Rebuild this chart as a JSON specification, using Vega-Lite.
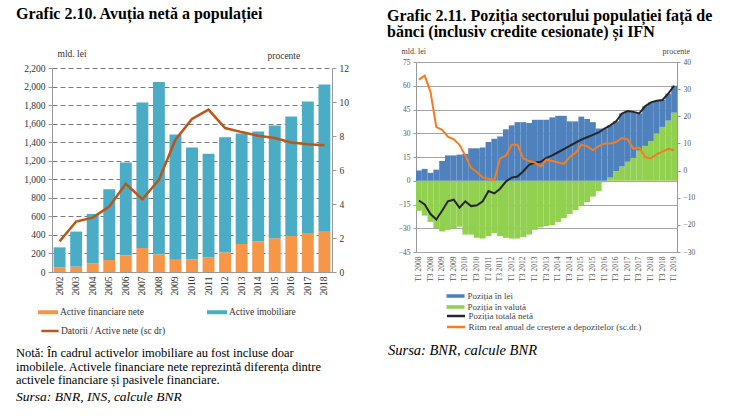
{
  "$schema": "https://vega.github.io/schema/vega-lite/v6.json",
  "background": "white",
  "padding": {"left": 16, "top": 6, "right": 4, "bottom": 4},
  "autosize": {"type": "pad"},
  "config": {
    "font": "Liberation Serif",
    "view": {"stroke": null},
    "axis": {"labelFont": "Liberation Serif", "titleFont": "Liberation Serif", "titleFontWeight": "normal", "labelOverlap": false},
    "legend": {"labelFont": "Liberation Serif"},
    "title": {"font": "Liberation Serif", "subtitleFont": "Liberation Serif"}
  },
  "datasets": {
    "left_bars": [
      {"an": "2002", "serie": "Active financiare nete", "v": 50},
      {"an": "2003", "serie": "Active financiare nete", "v": 58},
      {"an": "2004", "serie": "Active financiare nete", "v": 94},
      {"an": "2005", "serie": "Active financiare nete", "v": 130},
      {"an": "2006", "serie": "Active financiare nete", "v": 180},
      {"an": "2007", "serie": "Active financiare nete", "v": 259},
      {"an": "2008", "serie": "Active financiare nete", "v": 191},
      {"an": "2009", "serie": "Active financiare nete", "v": 133},
      {"an": "2010", "serie": "Active financiare nete", "v": 137},
      {"an": "2011", "serie": "Active financiare nete", "v": 158},
      {"an": "2012", "serie": "Active financiare nete", "v": 212},
      {"an": "2013", "serie": "Active financiare nete", "v": 302},
      {"an": "2014", "serie": "Active financiare nete", "v": 331},
      {"an": "2015", "serie": "Active financiare nete", "v": 364},
      {"an": "2016", "serie": "Active financiare nete", "v": 389},
      {"an": "2017", "serie": "Active financiare nete", "v": 421},
      {"an": "2018", "serie": "Active financiare nete", "v": 443},
      {"an": "2002", "serie": "Active imobiliare", "v": 216},
      {"an": "2003", "serie": "Active imobiliare", "v": 378},
      {"an": "2004", "serie": "Active imobiliare", "v": 532},
      {"an": "2005", "serie": "Active imobiliare", "v": 763},
      {"an": "2006", "serie": "Active imobiliare", "v": 1001},
      {"an": "2007", "serie": "Active imobiliare", "v": 1570},
      {"an": "2008", "serie": "Active imobiliare", "v": 1857},
      {"an": "2009", "serie": "Active imobiliare", "v": 1350},
      {"an": "2010", "serie": "Active imobiliare", "v": 1206},
      {"an": "2011", "serie": "Active imobiliare", "v": 1116},
      {"an": "2012", "serie": "Active imobiliare", "v": 1242},
      {"an": "2013", "serie": "Active imobiliare", "v": 1192},
      {"an": "2014", "serie": "Active imobiliare", "v": 1185},
      {"an": "2015", "serie": "Active imobiliare", "v": 1216},
      {"an": "2016", "serie": "Active imobiliare", "v": 1289},
      {"an": "2017", "serie": "Active imobiliare", "v": 1419},
      {"an": "2018", "serie": "Active imobiliare", "v": 1580}
    ],
    "left_line": [
      {"an": "2002", "r": 1.8}, {"an": "2003", "r": 2.97}, {"an": "2004", "r": 3.2},
      {"an": "2005", "r": 3.85}, {"an": "2006", "r": 5.19}, {"an": "2007", "r": 4.28},
      {"an": "2008", "r": 5.42}, {"an": "2009", "r": 7.78}, {"an": "2010", "r": 9.0},
      {"an": "2011", "r": 9.55}, {"an": "2012", "r": 8.47}, {"an": "2013", "r": 8.23},
      {"an": "2014", "r": 8.02}, {"an": "2015", "r": 7.88}, {"an": "2016", "r": 7.62},
      {"an": "2017", "r": 7.52}, {"an": "2018", "r": 7.45}
    ],
    "right": [
      {"q": "T1 2008", "lei": 6.5, "valuta": -19, "total": -12.5, "ritm": 33.5},
      {"q": "T2 2008", "lei": 7.5, "valuta": -22, "total": -15, "ritm": 35},
      {"q": "T3 2008", "lei": 5, "valuta": -26, "total": -21, "ritm": 29},
      {"q": "T4 2008", "lei": 7, "valuta": -30, "total": -24.5, "ritm": 16},
      {"q": "T1 2009", "lei": 12.5, "valuta": -32, "total": -19, "ritm": 15},
      {"q": "T2 2009", "lei": 16, "valuta": -31, "total": -13, "ritm": 12.5},
      {"q": "T3 2009", "lei": 16, "valuta": -30, "total": -12, "ritm": 11.5},
      {"q": "T4 2009", "lei": 16.5, "valuta": -29, "total": -17, "ritm": 9.5},
      {"q": "T1 2010", "lei": 17, "valuta": -34, "total": -13, "ritm": 5.5},
      {"q": "T2 2010", "lei": 20.5, "valuta": -34, "total": -16, "ritm": 1},
      {"q": "T3 2010", "lei": 20.5, "valuta": -36, "total": -15.5, "ritm": -0.5},
      {"q": "T4 2010", "lei": 21, "valuta": -36.5, "total": -13, "ritm": -2.5},
      {"q": "T1 2011", "lei": 24.5, "valuta": -35, "total": -6.5, "ritm": -3},
      {"q": "T2 2011", "lei": 26.5, "valuta": -33, "total": -8, "ritm": -3.5},
      {"q": "T3 2011", "lei": 28, "valuta": -35, "total": -5, "ritm": 4.5},
      {"q": "T4 2011", "lei": 32.5, "valuta": -36, "total": -0.5, "ritm": 5.5},
      {"q": "T1 2012", "lei": 35, "valuta": -36.5, "total": 2, "ritm": 9.5},
      {"q": "T2 2012", "lei": 37, "valuta": -36.5, "total": 2.7, "ritm": 9.5},
      {"q": "T3 2012", "lei": 37, "valuta": -35.5, "total": 6, "ritm": 4.5},
      {"q": "T4 2012", "lei": 36.5, "valuta": -34, "total": 10, "ritm": 3.5},
      {"q": "T1 2013", "lei": 38.5, "valuta": -31, "total": 11.5, "ritm": 3},
      {"q": "T2 2013", "lei": 38.5, "valuta": -29.5, "total": 12, "ritm": 1.5},
      {"q": "T3 2013", "lei": 38.5, "valuta": -28.5, "total": 14.5, "ritm": 4},
      {"q": "T4 2013", "lei": 40, "valuta": -28, "total": 16, "ritm": 3.5},
      {"q": "T1 2014", "lei": 41, "valuta": -26, "total": 18, "ritm": 3},
      {"q": "T2 2014", "lei": 41, "valuta": -23.5, "total": 20, "ritm": 2.5},
      {"q": "T3 2014", "lei": 37.5, "valuta": -21, "total": 22, "ritm": 5},
      {"q": "T4 2014", "lei": 37.5, "valuta": -18.5, "total": 24, "ritm": 6.5},
      {"q": "T1 2015", "lei": 40.5, "valuta": -16, "total": 26, "ritm": 9.5},
      {"q": "T2 2015", "lei": 39, "valuta": -13.5, "total": 27.5, "ritm": 9},
      {"q": "T3 2015", "lei": 37, "valuta": -10, "total": 29, "ritm": 7.5},
      {"q": "T4 2015", "lei": 33, "valuta": -6.5, "total": 30.5, "ritm": 9},
      {"q": "T1 2016", "lei": 33, "valuta": -1, "total": 33, "ritm": 10},
      {"q": "T2 2016", "lei": 33, "valuta": 2, "total": 35, "ritm": 10},
      {"q": "T3 2016", "lei": 31.5, "valuta": 6, "total": 37.5, "ritm": 10.5},
      {"q": "T4 2016", "lei": 33.5, "valuta": 9, "total": 42.5, "ritm": 12},
      {"q": "T1 2017", "lei": 32, "valuta": 12, "total": 44, "ritm": 11.5},
      {"q": "T2 2017", "lei": 29, "valuta": 14.5, "total": 43.5, "ritm": 8},
      {"q": "T3 2017", "lei": 23.5, "valuta": 19, "total": 42.5, "ritm": 8.5},
      {"q": "T4 2017", "lei": 25, "valuta": 22, "total": 47, "ritm": 5},
      {"q": "T1 2018", "lei": 24.5, "valuta": 25, "total": 49.5, "ritm": 4.5},
      {"q": "T2 2018", "lei": 20.5, "valuta": 30, "total": 50.5, "ritm": 6},
      {"q": "T3 2018", "lei": 17, "valuta": 34, "total": 51, "ritm": 7},
      {"q": "T4 2018", "lei": 17, "valuta": 38, "total": 55, "ritm": 8},
      {"q": "T1 2019", "lei": 17, "valuta": 43, "total": 60, "ritm": 7.5}
    ]
  },
  "hconcat": [
    {
      "title": {"text": "Grafic 2.10. Avuția netă a populației", "anchor": "start", "frame": "group", "dx": -36, "fontSize": 16, "fontWeight": "bold", "color": "black", "offset": 26},
      "bounds": "flush",
      "spacing": 5,
      "resolve": {"scale": {"color": "independent", "stroke": "independent"}, "legend": {"color": "independent", "stroke": "independent"}},
      "vconcat": [
        {"data": {"values": [{"k": 0}]}, "mark": {"type": "rule", "opacity": 0}, "encoding": {}, "width": 280, "height": 1},
        {
          "width": 280,
          "height": 204,
          "title": {
            "text": ["Notă: În cadrul activelor imobiliare au fost incluse doar", "imobilele. Activele financiare nete reprezintă diferența dintre", "activele financiare și pasivele financiare."],
            "subtitle": "Sursa: BNR, INS, calcule BNR",
            "orient": "bottom", "anchor": "start", "frame": "group", "dx": -36, "fontSize": 12.5, "fontWeight": "normal", "color": "black", "lineHeight": 13.5,
            "subtitleFontSize": 13.5, "subtitleFontStyle": "italic", "subtitleColor": "black", "subtitlePadding": 3, "offset": 11
          },
          "layer": [
            {
              "data": {"name": "left_bars"},
              "mark": {"type": "bar"},
              "encoding": {
                "x": {"field": "an", "type": "ordinal", "scale": {"paddingInner": 0.28, "paddingOuter": 0.1},
                  "axis": {"title": null, "labelAngle": 270, "labelAlign": "right", "labelBaseline": "middle", "labelFontSize": 9.5, "labelColor": "#333", "ticks": false, "domainColor": "#999", "labelPadding": 4}},
                "y": {"field": "v", "type": "quantitative", "stack": "zero", "scale": {"domain": [0, 2200], "nice": false},
                  "axis": {"values": [0, 200, 400, 600, 800, 1000, 1200, 1400, 1600, 1800, 2000, 2200], "format": ",d", "labelFontSize": 9.5, "labelColor": "#333", "labelOverlap": false,
                    "grid": true, "gridDash": [5, 3], "gridColor": "#404040", "gridWidth": 0.7, "domainColor": "#999", "tickColor": "#999", "tickSize": 4, "labelPadding": 3,
                    "title": "mld. lei", "titleAngle": 0, "titleAlign": "left", "titleBaseline": "middle", "titleX": 5, "titleY": -15, "titleFontSize": 9.5, "titleColor": "#333"}},
                "color": {"field": "serie", "type": "nominal",
                  "scale": {"domain": ["Active financiare nete", "Active imobiliare"], "range": ["#F79646", "#4BACC6"]},
                  "legend": {"orient": "none", "legendX": -15, "legendY": 233, "direction": "horizontal", "columns": 2, "columnPadding": 62, "title": null,
                    "symbolType": "M-1,-0.2H1V0.2H-1Z", "symbolSize": 400, "labelFontSize": 9.5, "labelColor": "#333", "labelOffset": 1}},
                "order": {"field": "serie", "sort": "ascending"}
              }
            },
            {
              "data": {"name": "left_line"},
              "mark": {"type": "line", "strokeWidth": 2.5},
              "encoding": {
                "x": {"field": "an", "type": "ordinal"},
                "y": {"field": "r", "type": "quantitative", "scale": {"domain": [0, 12], "nice": false},
                  "axis": {"orient": "right", "values": [0, 2, 4, 6, 8, 10, 12], "labelFontSize": 9.5, "labelColor": "#333", "labelOverlap": false, "grid": false, "domainColor": "#999", "tickColor": "#999", "tickSize": 4, "labelPadding": 3,
                    "title": "procente", "titleAngle": 0, "titleAlign": "left", "titleBaseline": "middle", "titleX": -65, "titleY": -13, "titleFontSize": 9.5, "titleColor": "#333"}},
                "stroke": {"datum": "Datorii / Active nete (sc dr)", "type": "nominal",
                  "scale": {"domain": ["Datorii / Active nete (sc dr)"], "range": ["#B8561B"]},
                  "legend": {"orient": "none", "legendX": -12, "legendY": 253, "title": null, "symbolType": "stroke", "symbolSize": 300, "symbolStrokeWidth": 2.5, "labelFontSize": 9.5, "labelColor": "#333", "labelOffset": 1}}
              }
            }
          ],
          "resolve": {"scale": {"y": "independent"}}
        }
      ]
    },
    {
      "title": {"text": "Grafic 2.11. Poziția sectorului populației față de", "subtitle": "bănci (inclusiv credite cesionate) și IFN", "anchor": "start", "frame": "group", "dx": -29, "fontSize": 16, "fontWeight": "bold", "color": "black",
        "subtitleFontSize": 16, "subtitleFontWeight": "bold", "subtitleColor": "black", "subtitlePadding": 0, "offset": 7},
      "bounds": "flush",
      "resolve": {"scale": {"color": "independent", "stroke": "independent"}, "legend": {"color": "independent", "stroke": "independent"}},
      "vconcat": [
        {
          "width": 261,
          "height": 190,
          "data": {"name": "right"},
          "title": {"text": "Sursa: BNR, calcule BNR", "orient": "bottom", "anchor": "start", "frame": "group", "dx": -28, "fontSize": 14.5, "fontStyle": "italic", "fontWeight": "normal", "color": "black", "offset": 12},
          "layer": [
            {
              "layer": [
                {
                  "transform": [{"fold": ["valuta", "lei"], "as": ["serie", "v"]}],
                  "mark": {"type": "bar"},
                  "encoding": {
                    "x": {"field": "q", "type": "ordinal", "sort": null, "scale": {"paddingInner": 0, "paddingOuter": 0},
                      "axis": {"title": null, "values": ["T1 2008", "T3 2008", "T1 2009", "T3 2009", "T1 2010", "T3 2010", "T1 2011", "T3 2011", "T1 2012", "T3 2012", "T1 2013", "T3 2013", "T1 2014", "T3 2014", "T1 2015", "T3 2015", "T1 2016", "T3 2016", "T1 2017", "T3 2017", "T1 2018", "T3 2018", "T1 2019"],
                        "labelAngle": 270, "labelAlign": "right", "labelBaseline": "middle", "labelFontSize": 7.5, "labelColor": "#555", "labelOverlap": false, "ticks": false, "domain": false, "labelPadding": 4}},
                    "y": {"field": "v", "type": "quantitative", "stack": "zero", "scale": {"domain": [-45, 75], "nice": false},
                      "axis": {"values": [-45, -30, -15, 0, 15, 30, 45, 60, 75], "labelFontSize": 7.5, "labelColor": "#555", "labelOverlap": false, "grid": true, "gridColor": "#A6A6A6", "gridWidth": 1,
                        "domainColor": "#999", "tickColor": "#999", "tickSize": 3, "labelPadding": 3,
                        "title": "mld. lei", "titleAngle": 0, "titleAlign": "left", "titleBaseline": "middle", "titleX": -15, "titleY": -11, "titleFontSize": 8, "titleColor": "#444"}},
                    "color": {"field": "serie", "type": "nominal",
                      "scale": {"domain": ["lei", "valuta"], "range": ["#4F81BD", "#92D050"]},
                      "legend": {"orient": "none", "legendX": 34, "legendY": 228.5, "direction": "vertical", "title": null,
                        "symbolType": "M-2,-0.4H2V0.4H-2Z", "symbolSize": 81, "labelFontSize": 9, "labelColor": "#444", "labelOffset": 6.5, "rowPadding": 0, "labelLimit": 300,
                        "labelExpr": "datum.label == 'lei' ? 'Poziția în lei' : 'Poziția în valută'"}},
                    "order": {"field": "serie", "sort": "descending"}
                  }
                },
                {
                  "mark": {"type": "line", "strokeWidth": 2},
                  "encoding": {
                    "x": {"field": "q", "type": "ordinal", "sort": null},
                    "y": {"field": "total", "type": "quantitative",
                      "axis": {"values": [-45, -30, -15, 0, 15, 30, 45, 60, 75], "labelFontSize": 7.5, "labelColor": "#555", "labelOverlap": false, "grid": true, "gridColor": "#A6A6A6", "gridWidth": 1,
                        "domainColor": "#999", "tickColor": "#999", "tickSize": 3, "labelPadding": 3,
                        "title": "mld. lei", "titleAngle": 0, "titleAlign": "left", "titleBaseline": "middle", "titleX": -15, "titleY": -11, "titleFontSize": 8, "titleColor": "#444"}},
                    "stroke": {"datum": "Poziția totală netă", "type": "nominal"}
                  }
                }
              ]
            },
            {
              "mark": {"type": "line", "strokeWidth": 2},
              "encoding": {
                "x": {"field": "q", "type": "ordinal", "sort": null},
                "y": {"field": "ritm", "type": "quantitative", "scale": {"domain": [-30, 40], "nice": false},
                  "axis": {"orient": "right", "values": [-30, -20, -10, 0, 10, 20, 30, 40], "labelFontSize": 7.5, "labelColor": "#555", "labelOverlap": false, "grid": false, "domainColor": "#999", "tickColor": "#999", "tickSize": 3, "labelPadding": 3,
                    "title": "procente", "titleAngle": 0, "titleAlign": "left", "titleBaseline": "middle", "titleX": -15, "titleY": -11, "titleFontSize": 8, "titleColor": "#444"}},
                "stroke": {"datum": "Ritm real anual de creștere a depozitelor (sc.dr.)", "type": "nominal",
                  "scale": {"domain": ["Poziția totală netă", "Ritm real anual de creștere a depozitelor (sc.dr.)"], "range": ["#262626", "#F57C1F"]},
                  "legend": {"orient": "none", "legendX": 34, "legendY": 248, "title": null, "symbolType": "M-2,0H2", "symbolSize": 81, "symbolStrokeWidth": 2.5, "labelFontSize": 9, "labelColor": "#444", "labelOffset": 6.5, "rowPadding": 0, "labelLimit": 300}}
              }
            }
          ],
          "resolve": {"scale": {"y": "independent"}}
        }
      ]
    }
  ],
  "spacing": 38,
  "resolve": {"scale": {"color": "independent", "stroke": "independent"}, "legend": {"color": "independent", "stroke": "independent"}}
}
